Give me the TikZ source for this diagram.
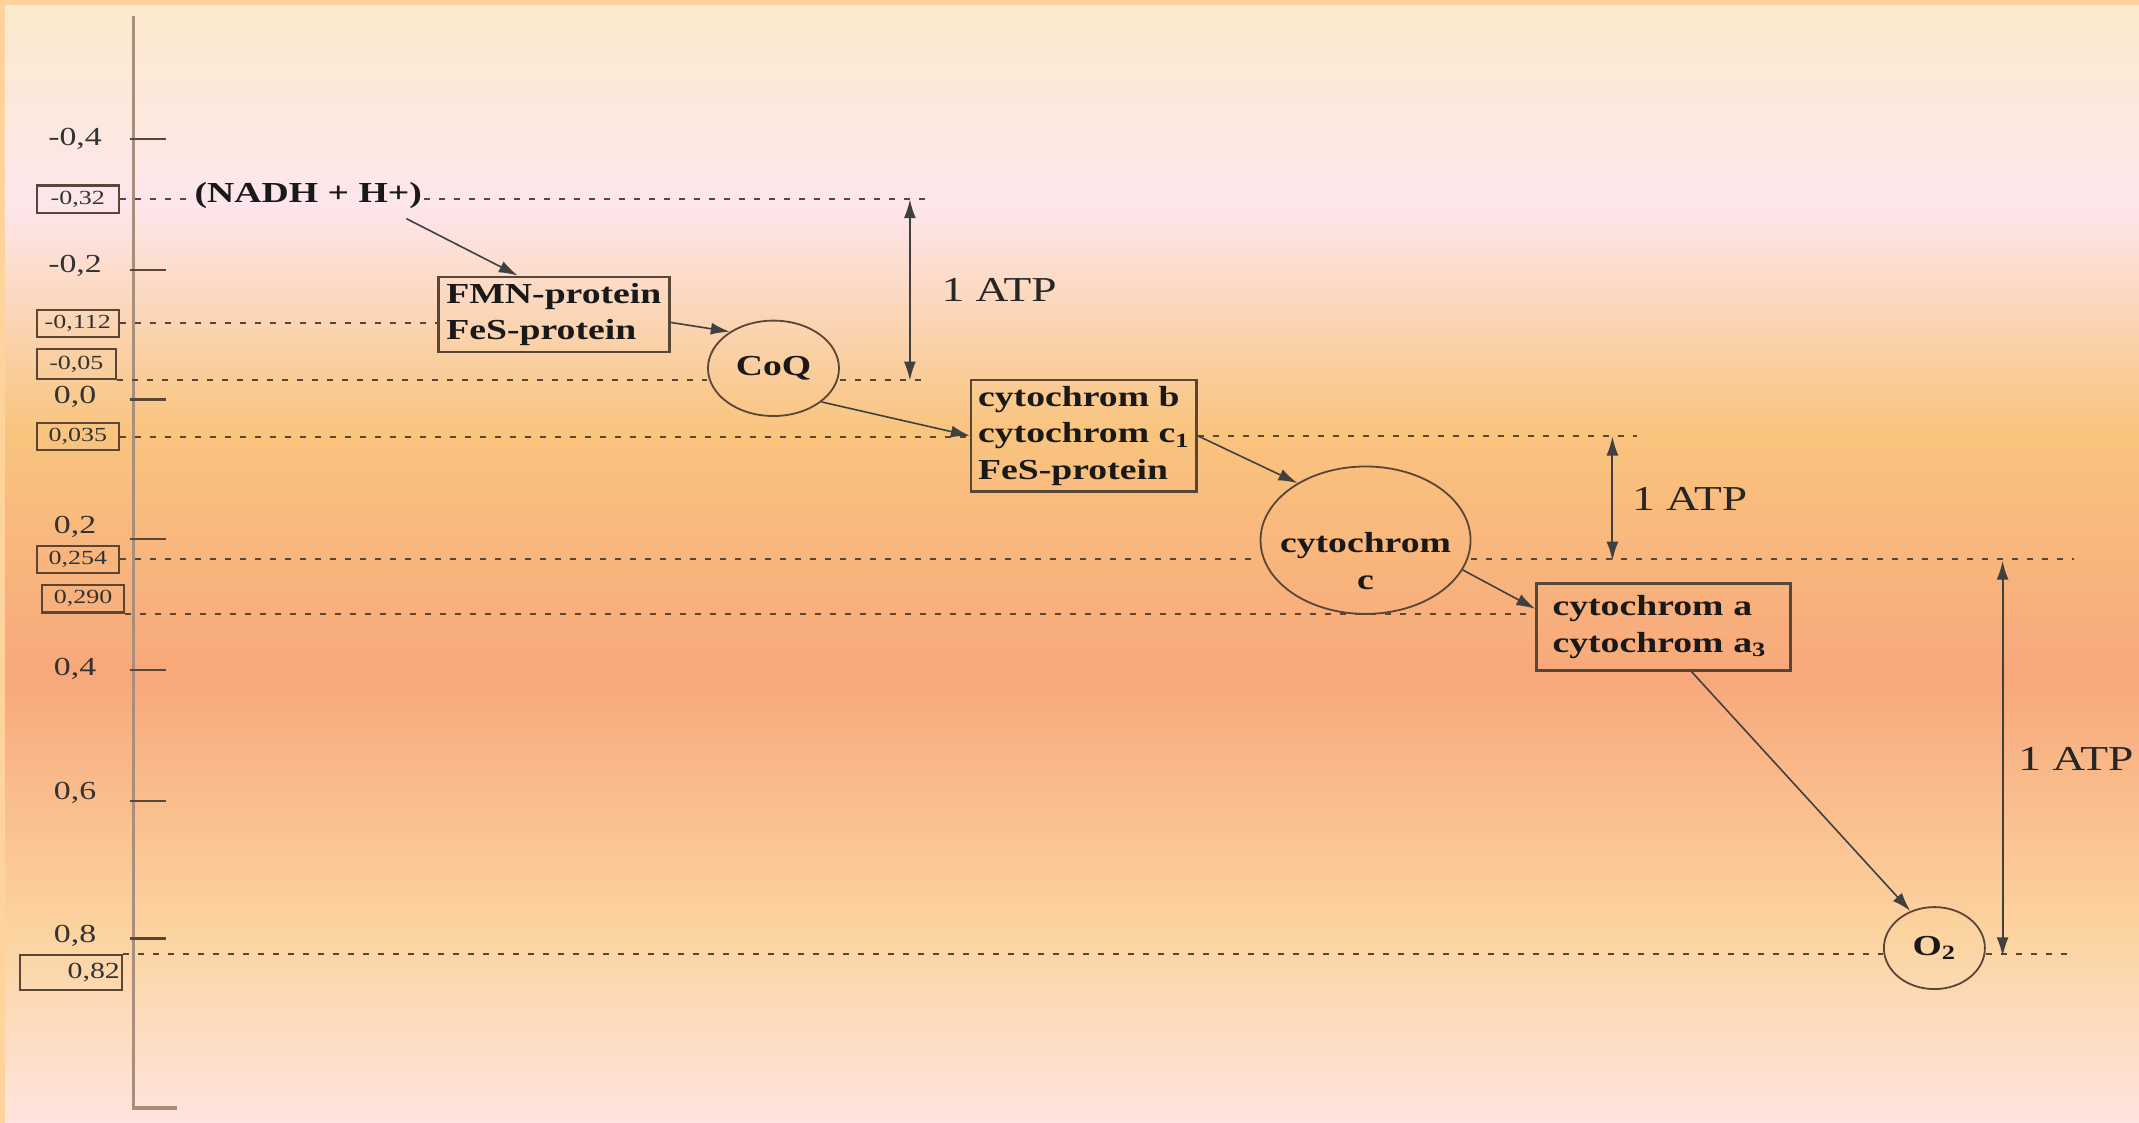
\documentclass[tikz,border=0pt]{standalone}
\usepackage{fontspec}
\setmainfont{Liberation Serif}[FakeStretch = 1.3]
\usepackage{tikz}
\usetikzlibrary{shapes.geometric}
\usetikzlibrary{arrows.meta}

\definecolor{bgEdge}{HTML}{FFD49C}
\definecolor{bgTop}{HTML}{FCEACD}
\definecolor{bgPink}{HTML}{FDE6EC}
\definecolor{bgOrange}{HTML}{F9C47E}
\definecolor{bgSalmon}{HTML}{F8A87B}
\definecolor{bgPeach}{HTML}{FCD4A0}
\definecolor{bgBottom}{HTML}{FEE4DE}
\definecolor{lineC}{HTML}{5A4636}
\definecolor{axisC}{HTML}{A88E7C}

\begin{document}
\begin{tikzpicture}[x = 0.682pt, y = -0.682pt, >= {Latex[length = 9.5pt, width = 6pt]},
        level/.style = {draw = lineC, line width = 1pt, dash pattern = on 3pt off 4.5pt},
        carrier/.style = {draw = lineC, line width = 1.3pt, align = left, inner xsep = 4pt, inner ysep = 3pt,
            text = black!90, font = \fontsize{14.5}{18.4}\selectfont\bfseries},
        redox/.style = {ellipse, draw = lineC, line width = .9pt, inner sep = 0pt,
            text = black!90, font = \fontsize{14.5}{18.4}\selectfont\bfseries},
        potential/.style = {draw = lineC, line width = 1.1pt, minimum width = 40.9pt, minimum height = 13.6pt,
            inner sep = 1pt, text = black!80, font = \fontsize{10}{12}\selectfont},
        tick label/.style = {text = black!80, font = \fontsize{13}{15}\selectfont},
        atp/.style = {text = black!85, font = \fontsize{17.5}{21}\selectfont},
        flow/.style = {->, draw = black!75, line width = .8pt},
        gain/.style = {<->, draw = black!75, line width = 1pt}]

                \useasboundingbox (0,0) rectangle (1568,823);

                % Draw the background:
                \shade [top color = bgTop, bottom color = bgPink] (0,4) rectangle (1568,151);
                \shade [top color = bgPink, bottom color = bgOrange] (0,150) rectangle (1568,316);
                \shade [top color = bgOrange, bottom color = bgSalmon] (0,315) rectangle (1568,496);
                \shade [top color = bgSalmon, bottom color = bgPeach] (0,495) rectangle (1568,686);
                \shade [top color = bgPeach, bottom color = bgBottom] (0,685) rectangle (1568,823);
                \fill [bgEdge] (0,0) rectangle (1568,4);
                \fill [bgEdge] (0,0) rectangle (4,823);

                % Draw the potential axis:
                \draw [draw = axisC, line width = 1.8pt] (98,12) -- (98,812) -- (130,812);
                \foreach \ty/\tlab/\ly in {102/{-0,4}/102, 198/{-0,2}/195, 293/{0,0}/291, 395/{0,2}/386,
                                           491/{0,4}/490, 587/{0,6}/581, 688/{0,8}/686}
                {
                    \draw [draw = lineC, line width = 1.2pt] (95,\ty) -- (122,\ty);
                    \node [tick label] (tick\ty) at (55,\ly) {\tlab};
                }

                % Draw the redox potentials:
                \node [potential] (E032) at (57,146) {-0,32};
                \node [potential] (E0112) at (57,237) {-0,112};
                \node [potential, minimum width = 39.5pt, minimum height = 15pt] (E005) at (56,267) {-0,05};
                \node [potential] (E0035) at (57,320) {0,035};
                \node [potential] (E0254) at (57,410) {0,254};
                \node [potential] (E0290) at (61,439) {0,290};
                \node [potential, text width = 49pt, align = right, minimum height = 17.7pt,
                    font = \fontsize{11.5}{13}\selectfont] (E082) at (52,713) {0,82};

                % Draw the carriers of the chain:
                \node [text = black!90, inner sep = 1pt, font = \fontsize{14.5}{18.4}\selectfont\bfseries]
                    (NADH) at (226,143) {(NADH + H+)};
                \node [carrier] (FMN) at (406,230.5) {FMN-protein\\FeS-protein};
                \node [redox, minimum width = 65.5pt, minimum height = 47.7pt] (CoQ) at (567,270) {CoQ};
                \node [carrier, inner xsep = 3.5pt] (CytB) at (794.5,319.5)
                    {cytochrom b\\cytochrom c\textsubscript{1}\\FeS-protein};
                \node [redox, minimum width = 105pt, minimum height = 73.7pt, text height = 49pt, text depth = 0pt]
                    (CytC) at (1001,396) {\makebox[0pt]{\begin{tabular}[b]{@{}c@{}}cytochrom\\c\end{tabular}}};
                \node [carrier, text width = 111pt, inner xsep = 8pt, inner ysep = 6pt] (CytA) at (1219.5,459.5)
                    {cytochrom a\\cytochrom a\textsubscript{3}};
                \node [redox, minimum width = 50.5pt, minimum height = 41pt] (O2) at (1418,695) {O\textsubscript{2}};

                % Draw the potential levels:
                \coordinate (endA) at (680,146);
                \coordinate (endB) at (680,279);
                \coordinate (endC) at (1200,320);
                \coordinate (endD) at (1520,411);
                \coordinate (endE) at (1520,701);
                \draw [level] (E032.east) -- (NADH.west |- E032.east);
                \draw [level] (NADH.east |- E032.east) -- (endA |- E032.east);
                \draw [level] (E0112.east) -- (FMN.west |- E0112.east);
                \draw [level] (E005.south east) -- (CoQ.west |- E005.south east);
                \draw [level] (CoQ.east |- E005.south east) -- (endB |- E005.south east);
                \draw [level] (E0035.east) -- (CytB.west |- E0035.east);
                \draw [level] (CytB.east) -- (endC |- CytB.east);
                \draw [level] (E0254.east) -- (CytC.west |- E0254.east);
                \draw [level] (CytC.east |- E0254.east) -- (endD |- E0254.east);
                \draw [level] (E0290.south east) -- (CytA.west |- E0290.south east);
                \draw [level] (E082.north east) -- (O2.west |- E082.north east);
                \draw [level] (O2.east |- E082.north east) -- (endE |- E082.north east);

                % Draw the electron flow:
                \draw [flow] ([xshift = -9pt, yshift = -4pt]NADH.south east) -- ([xshift = -18pt]FMN.north);
                \draw [flow] ([yshift = -4pt]FMN.east) -- (CoQ.140);
                \draw [flow] (CoQ.-35) -- (CytB.west);
                \draw [flow] (CytB.east) -- (CytC.140);
                \draw [flow] (CytC.-17) -- ([yshift = 9pt]CytA.west);
                \draw [flow] ([xshift = 14pt]CytA.south) -- (O2.123);

                % Draw the ATP steps:
                \coordinate (atpA1) at (667,146);
                \coordinate (atpA2) at (667,279);
                \coordinate (atpB1) at (1182,320);
                \coordinate (atpB2) at (1182,411);
                \coordinate (atpC1) at (1468,411);
                \coordinate (atpC2) at (1468,701);
                \draw [gain] (atpA1) -- node [atp, right = 12pt] (ATPa) {1 ATP} (atpA2);
                \draw [gain] (atpB1) -- node [atp, right = 6pt] (ATPb) {1 ATP} (atpB2);
                \draw [gain] (atpC1) -- node [atp, right = 4pt] (ATPc) {1 ATP} (atpC2);
            \end{tikzpicture}
\end{document}
